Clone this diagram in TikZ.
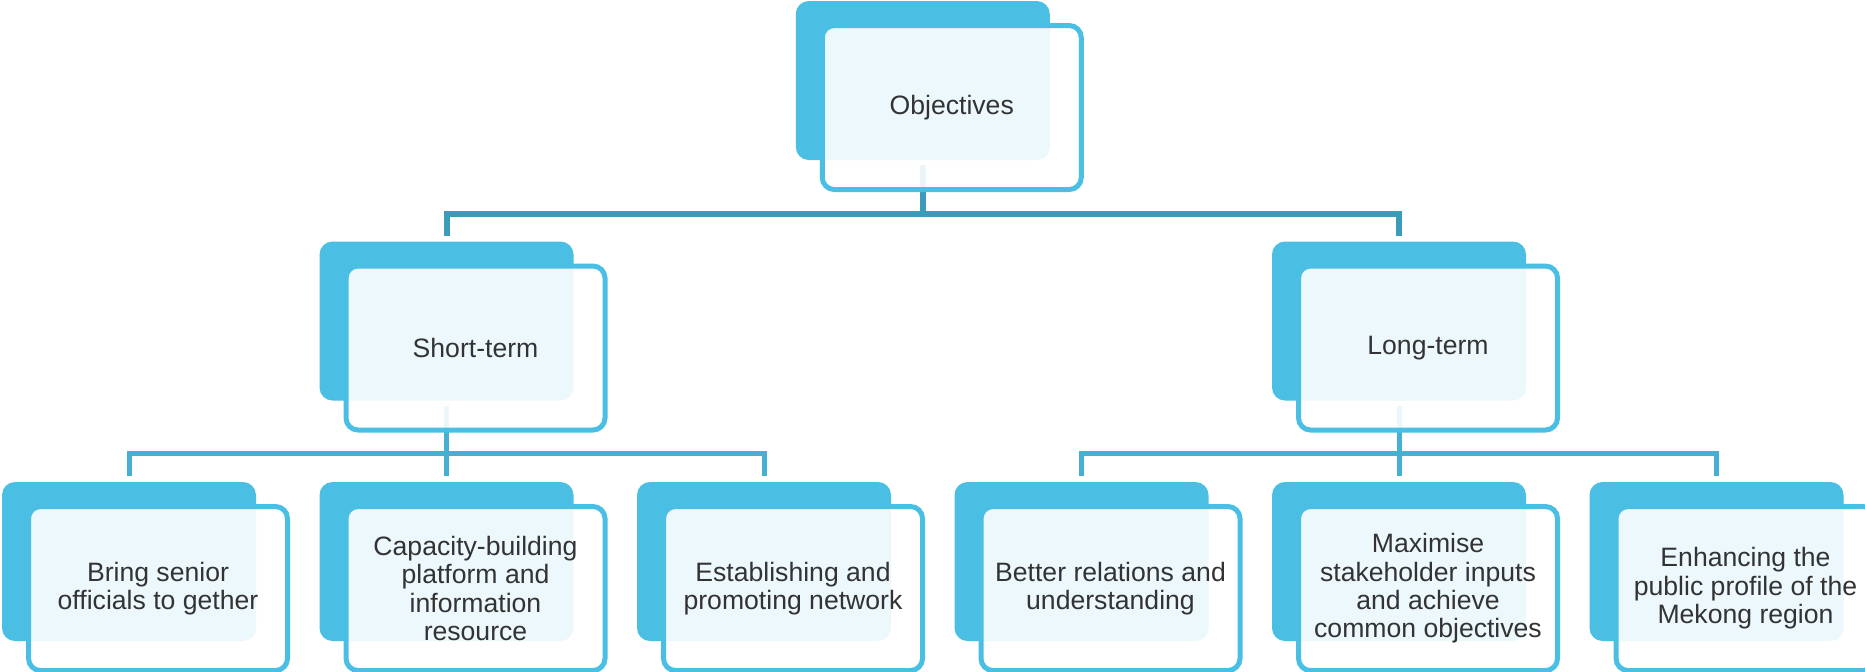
\documentclass[tikz,border=0pt]{standalone}
\usepackage{fontspec}
\setmainfont{Liberation Sans}
\usepackage{tikz}
\definecolor{skyblue}{RGB}{74, 191, 227}
\definecolor{deepteal}{RGB}{58, 156, 185}
\definecolor{midblue}{RGB}{69, 176, 210}
\definecolor{inkgray}{RGB}{51, 51, 51}

\begin{document}
\begin{tikzpicture}[x=0.5pt, y=-0.5pt,
        backbox/.style={fill=skyblue, rounded corners=6.5pt, minimum width=127pt, minimum height=79.5pt, inner sep=0pt, outer sep=0pt},
        frontbox/.style={draw=skyblue, line width=2.5pt, fill=white, fill opacity=0.9, text opacity=1, rounded corners=6pt,
                         minimum width=129.5pt, minimum height=82pt, inner sep=0pt, outer sep=0pt, align=center,
                         text=inkgray, font=\fontsize{13.3}{14.2}\selectfont},
        toplink/.style={draw=deepteal, line width=3pt, shorten <=2.5pt, shorten >=3pt},
        sublink/.style={draw=midblue, line width=2.5pt, shorten <=2.5pt, shorten >=3pt}]
            % Frame
            \useasboundingbox (0,0) rectangle (1865,671);
            % Back panels
            \node[backbox] (obj-back)       at ( 922.75,  80.5) {};
            \node[backbox] (shortterm-back) at ( 446.5,  321.0) {};
            \node[backbox] (longterm-back)  at (1399.0,  321.0) {};
            \node[backbox] (bring-back)     at ( 129.0,  561.5) {};
            \node[backbox] (capacity-back)  at ( 446.5,  561.5) {};
            \node[backbox] (network-back)   at ( 764.0,  561.5) {};
            \node[backbox] (relations-back) at (1081.5,  561.5) {};
            \node[backbox] (inputs-back)    at (1399.0,  561.5) {};
            \node[backbox] (profile-back)   at (1716.5,  561.5) {};
            % Links from the top
            \draw[toplink] (obj-back.south) -- ++(0,54) -| (shortterm-back.north);
            \draw[toplink] (obj-back.south) -- ++(0,54) -| (longterm-back.north);
            % Links, short term
            \draw[sublink] (shortterm-back.south) -- ++(0,53) -| (bring-back.north);
            \draw[sublink] (shortterm-back.south) -- ++(0,53) -| (capacity-back.north);
            \draw[sublink] (shortterm-back.south) -- ++(0,53) -| (network-back.north);
            % Links, long term
            \draw[sublink] (longterm-back.south) -- ++(0,53) -| (relations-back.north);
            \draw[sublink] (longterm-back.south) -- ++(0,53) -| (inputs-back.north);
            \draw[sublink] (longterm-back.south) -- ++(0,53) -| (profile-back.north);
            % Front panels
            \node[frontbox] (obj)       at ([shift={(29,27)}]obj-back.center)       {Objectives};
            \node[frontbox] (shortterm) at ([shift={(29,27)}]shortterm-back.center) {Short-term};
            \node[frontbox] (longterm)  at ([shift={(29,27)}]longterm-back.center)  {Long-term};
            \node[frontbox] (bring)     at ([shift={(29,27)}]bring-back.center)     {Bring senior\\officials to gether};
            \node[frontbox] (capacity)  at ([shift={(29,27)}]capacity-back.center)  {Capacity-building\\platform and\\information\\resource};
            \node[frontbox] (network)   at ([shift={(29,27)}]network-back.center)   {Establishing and\\promoting network};
            \node[frontbox] (relations) at ([shift={(29,27)}]relations-back.center) {Better relations and\\understanding};
            \node[frontbox] (inputs)    at ([shift={(29,27)}]inputs-back.center)    {Maximise\\stakeholder inputs\\and achieve\\common objectives};
            \node[frontbox] (profile)   at ([shift={(29,27)}]profile-back.center)   {Enhancing the\\public profile of the\\Mekong region};
        \end{tikzpicture}
\end{document}
